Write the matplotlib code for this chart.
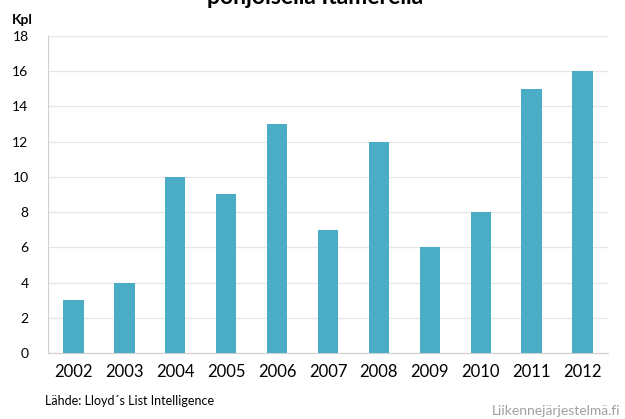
import matplotlib
matplotlib.use("Agg")
from matplotlib import pyplot as plt

plt.rcParams['font.family'] = ['Lato', 'DejaVu Sans']

years = ['2002', '2003', '2004', '2005', '2006', '2007', '2008', '2009', '2010', '2011', '2012']
counts = [3, 4, 10, 9, 13, 7, 12, 6, 8, 15, 16]
yticks = [0, 2, 4, 6, 8, 10, 12, 14, 16, 18]

W, H = 625, 419
fig = plt.figure(figsize=(W / 100, H / 100), dpi=100)
ax = fig.add_axes([48 / W, 1 - 353 / H, (608 - 48) / W, (353 - 36) / H])

x = range(len(years))
ax.bar(x, counts, width=0.4, color='#4BACC6', zorder=3)

ax.set_xlim(-0.5, len(years) - 0.5)
ax.set_ylim(0, 18)
ax.set_yticks(yticks)
ax.set_xticks(list(x))
ax.set_xticklabels(years, fontsize=12)
ax.tick_params(axis='y', labelsize=10, length=0, pad=14)
ax.tick_params(axis='x', length=0, pad=8)
ax.grid(axis='y', color='#E6E6E6', linewidth=0.9, zorder=0)

for s in ['top', 'right']:
    ax.spines[s].set_visible(False)
ax.spines['left'].set_color('#D0D0D0')
ax.spines['bottom'].set_color('#D0D0D0')

# title, first line(s) outside the picture
fig.text(315 / W, 1 - 4.5 / H, 'pohjoisella Itämerellä', ha='center', va='baseline',
         fontsize=16.5, fontweight='bold')
fig.text(12 / W, 1 - 24 / H, 'Kpl', ha='left', va='baseline', fontsize=10, fontweight='bold')
fig.text(45 / W, 1 - 405 / H, 'Lähde: Lloyd´s List Intelligence', ha='left', va='baseline',
         fontsize=9)
fig.text(620 / W, 1 - 415 / H, 'Liikennejärjestelmä.fi', ha='right', va='baseline',
         fontsize=10, color='#A0A0A0')

fig.savefig('out.png', dpi=100)
